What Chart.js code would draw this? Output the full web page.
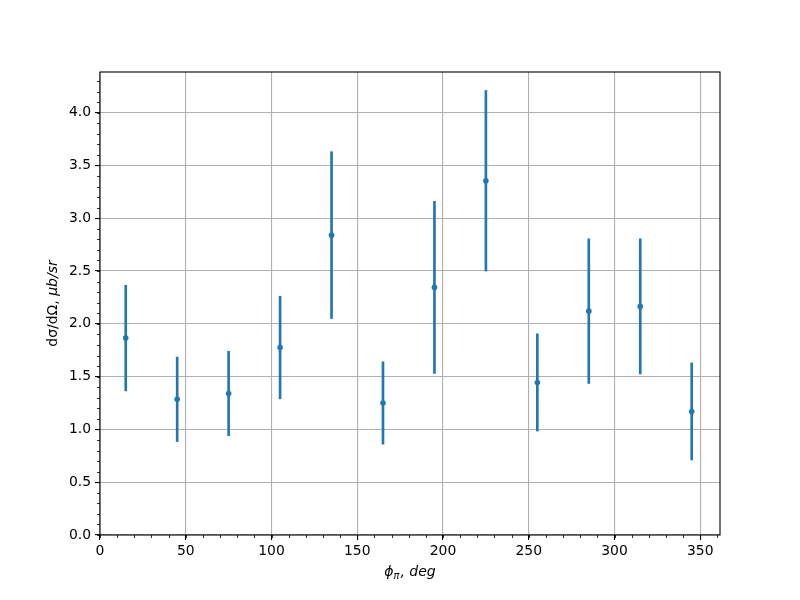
<!DOCTYPE html>
<html>
<head>
<meta charset="utf-8">
<script src="https://cdn.jsdelivr.net/npm/chart.js@4"></script>
<style>
html,body{margin:0;padding:0;background:#fff;}
#wrap{width:800px;height:600px;}
</style>
</head>
<body>
<div id="wrap"><canvas id="c" width="800" height="600"></canvas></div>
<script>
// ---- data ----
const phi = [15, 45, 75, 105, 135, 165, 195, 225, 255, 285, 315, 345];
const xsec = [1.865, 1.285, 1.34, 1.775, 2.84, 1.25, 2.345, 3.355, 1.445, 2.12, 2.165, 1.17];
const xsecErr = [0.50, 0.40, 0.40, 0.485, 0.79, 0.39, 0.815, 0.855, 0.46, 0.685, 0.64, 0.46];
const xLimits = [0, 361.5];
const yLimits = [0, 4.385];
const xMajorStep = 50, xMinorStep = 10;
const yMajorStep = 0.5, yMinorStep = 0.1;

const blue = '#1f77b4';
const FONT = 'DejaVu Sans';

const points = phi.map((x, i) => ({x: x, y: xsec[i]}));
const bars = phi.map((x, i) => ({x: x, y: [xsec[i] - xsecErr[i], xsec[i] + xsecErr[i]]}));

const frame = {
  id: 'frame',
  afterDraw(chart) {
    const ctx = chart.ctx;
    const a = chart.chartArea;
    const xs = chart.scales.x, ys = chart.scales.y;
    ctx.save();
    // minor ticks
    ctx.strokeStyle = '#000';
    ctx.lineWidth = 0.8;
    ctx.beginPath();
    for (let v = xLimits[0]; v <= xLimits[1] + 1e-9; v += xMinorStep) {
      const px = Math.round(xs.getPixelForValue(v)) + 0.5;
      ctx.moveTo(px, a.bottom);
      ctx.lineTo(px, a.bottom + 3);
    }
    for (let k = 0; k * yMinorStep <= yLimits[1] + 1e-9; k++) {
      const py = Math.round(ys.getPixelForValue(k * yMinorStep)) + 0.5;
      ctx.moveTo(a.left, py);
      ctx.lineTo(a.left - 3, py);
    }
    ctx.stroke();
    // spines
    ctx.lineWidth = 1.1;
    ctx.strokeRect(a.left, a.top, a.right - a.left, a.bottom - a.top);

    // axis labels
    ctx.fillStyle = '#000';
    ctx.textBaseline = 'alphabetic';
    const fs = 14;
    const partA = '\u03D5';
    const partSub = '\u03C0';
    const partB = ', deg';
    ctx.font = 'italic ' + fs + 'px "' + FONT + '"';
    const wA = ctx.measureText(partA).width;
    const wB = ctx.measureText(partB).width;
    ctx.font = 'italic ' + (fs * 0.7) + 'px "' + FONT + '"';
    const wS = ctx.measureText(partSub).width;
    const totalW = wA + wS + wB + 1;
    const cx = (a.left + a.right) / 2;
    let x0 = cx - totalW / 2;
    const yb = 576;
    ctx.textAlign = 'left';
    ctx.font = 'italic ' + fs + 'px "' + FONT + '"';
    ctx.fillText(partA, x0, yb);
    ctx.font = 'italic ' + (fs * 0.7) + 'px "' + FONT + '"';
    ctx.fillText(partSub, x0 + wA, yb + 3);
    ctx.font = 'italic ' + fs + 'px "' + FONT + '"';
    ctx.fillText(partB, x0 + wA + wS + 1, yb);

    const yA = 'd\u03C3/d\u03A9, ';
    const yB = '\u03BCb/sr';
    ctx.font = fs + 'px "' + FONT + '"';
    const wyA = ctx.measureText(yA).width;
    ctx.font = 'italic ' + fs + 'px "' + FONT + '"';
    const wyB = ctx.measureText(yB).width;
    const cy = (a.top + a.bottom) / 2;
    ctx.translate(57, cy);
    ctx.rotate(-Math.PI / 2);
    const sx = -(wyA + wyB) / 2;
    ctx.font = fs + 'px "' + FONT + '"';
    ctx.fillText(yA, sx, 0);
    ctx.font = 'italic ' + fs + 'px "' + FONT + '"';
    ctx.fillText(yB, sx + wyA, 0);
    ctx.restore();
  }
};

new Chart(document.getElementById('c'), {
  type: 'scatter',
  data: {
    datasets: [
      {
        type: 'bar',
        data: bars,
        backgroundColor: blue,
        borderWidth: 0,
        barThickness: 2,
        grouped: false,
        order: 2
      },
      {
        type: 'scatter',
        data: points,
        backgroundColor: blue,
        borderColor: blue,
        pointRadius: 2.8,
        pointBorderWidth: 0,
        order: 1
      }
    ]
  },
  options: {
    responsive: false,
    animation: false,
    devicePixelRatio: 1,
    layout: {padding: {left: 0, top: 72, right: 80, bottom: 0}},
    plugins: {legend: {display: false}, tooltip: {enabled: false}},
    scales: {
      x: {
        type: 'linear',
        min: xLimits[0], max: xLimits[1],
        offset: false,
        grid: {color: '#b0b0b0', lineWidth: 1.1, tickColor: '#000', tickLength: 5, tickWidth: 1.1, offset: false},
        border: {display: false},
        ticks: {stepSize: xMajorStep, includeBounds: false, color: '#000', padding: 3, maxRotation: 0,
                font: {family: FONT, size: 13.9}},
        afterFit(s) { s.height = 65; }
      },
      y: {
        type: 'linear',
        min: yLimits[0], max: yLimits[1],
        grid: {color: '#b0b0b0', lineWidth: 1.1, tickColor: '#000', tickLength: 5, tickWidth: 1.1},
        border: {display: false},
        ticks: {stepSize: yMajorStep, includeBounds: false, color: '#000', padding: 4,
                font: {family: FONT, size: 13.9},
                callback: v => v.toFixed(1)},
        afterFit(s) { s.width = 100; }
      }
    }
  },
  plugins: [frame]
});
</script>
</body>
</html>
